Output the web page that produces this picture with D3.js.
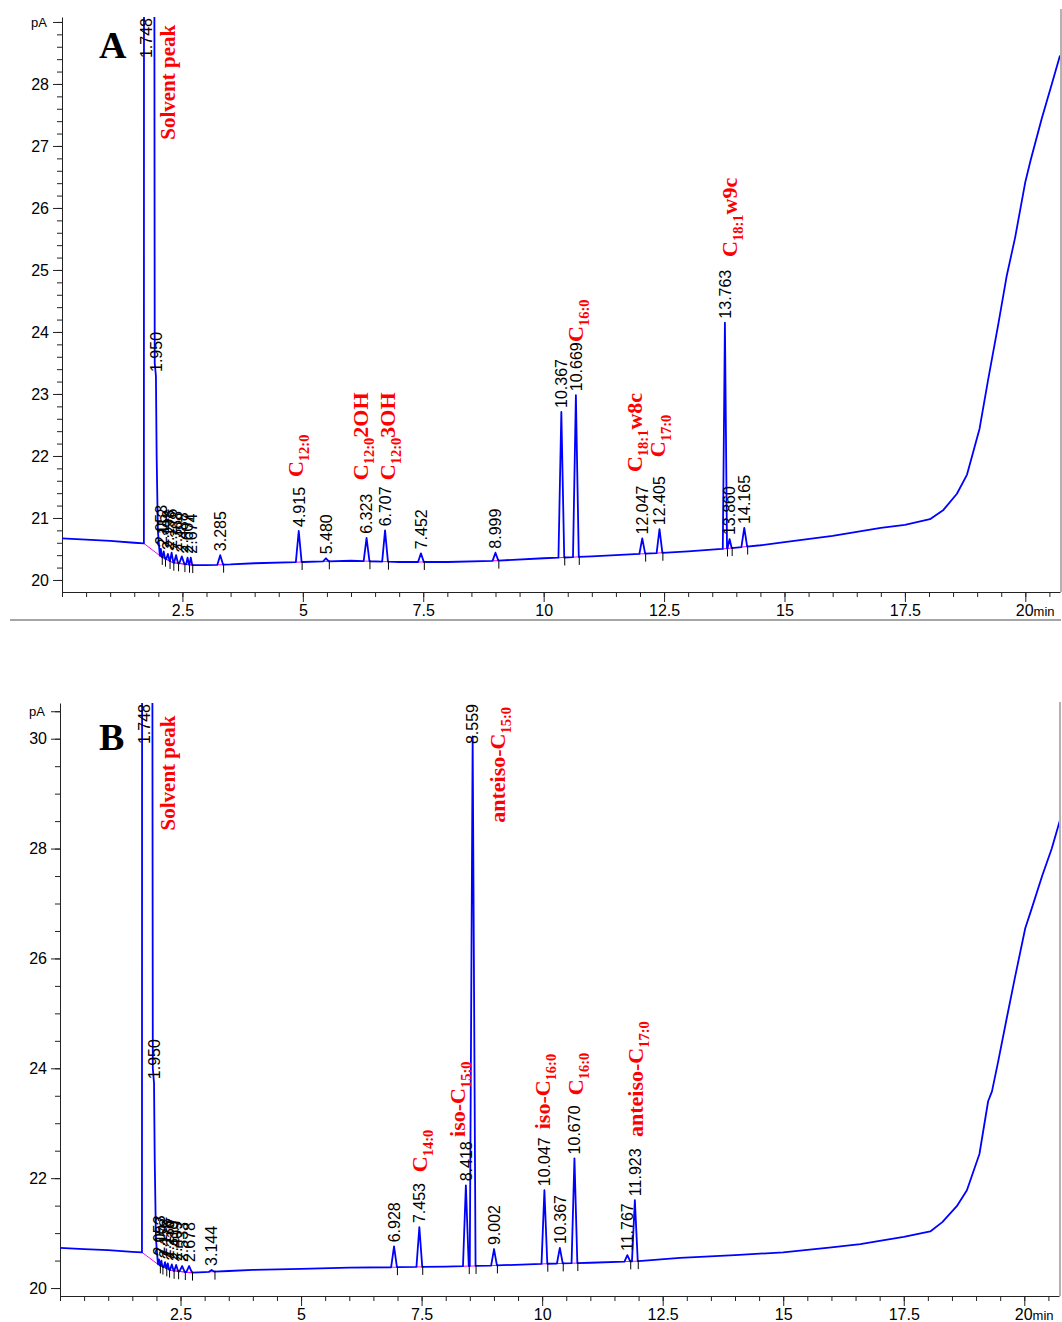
<!DOCTYPE html>
<html>
<head>
<meta charset="utf-8">
<script src="https://cdn.jsdelivr.net/npm/d3@7"></script>
<style>
body { margin: 0; background: #fff; }
svg { display: block; }
</style>
</head>
<body>
<svg id="chart" width="1062" height="1322"></svg>
<script>
// ---- panel A : baseline / drift of the FID signal (min, pA)
var baseTimeA = [0, 0.5, 1.0, 1.5, 1.70, 2.05, 2.3, 2.7, 3.0, 3.5, 4.0, 5.0, 6.0, 7.0, 8.0, 9.0, 10.0, 11.0, 12.0, 13.0, 13.7, 14.5, 15.0, 16.0, 17.0, 17.5, 18.02, 18.3, 18.58, 18.79, 19.05, 19.23, 19.44, 19.61, 19.79, 20.0, 20.11, 20.34, 20.55, 20.72];
var baseValA  = [20.67, 20.65, 20.63, 20.60, 20.59, 20.38, 20.28, 20.24, 20.24, 20.25, 20.27, 20.29, 20.31, 20.29, 20.29, 20.31, 20.35, 20.38, 20.42, 20.46, 20.50, 20.56, 20.61, 20.71, 20.84, 20.89, 20.98, 21.13, 21.39, 21.70, 22.44, 23.24, 24.13, 24.89, 25.53, 26.42, 26.77, 27.44, 28.00, 28.46];
// solvent front (goes off scale)
var solTimeA = [1.70, 1.705, 1.905, 1.925, 1.95, 1.965, 1.99, 2.03];
var solValA  = [20.59, 40, 40, 23.5, 23.29, 22.0, 20.8, 20.40];
// labelled peaks : retention time and apex
var rtA  = [1.748, 1.950, 2.053, 2.112, 2.198, 2.276, 2.368, 2.488, 2.607, 2.674, 3.285, 4.915, 5.480, 6.323, 6.707, 7.452, 8.999, 10.367, 10.669, 12.047, 12.405, 13.763, 13.860, 14.165];
var topA = [40, 23.29, 20.50, 20.46, 20.42, 20.44, 20.40, 20.38, 20.36, 20.36, 20.40, 20.79, 20.35, 20.68, 20.80, 20.43, 20.44, 22.71, 22.98, 20.67, 20.82, 24.15, 20.66, 20.84];
// compound names ( {..} = subscript ) and where they sit (min, pA)
var noteTextA = ["Solvent peak", "C{12:0}", "C{12:0}2OH", "C{12:0}3OH", "C{16:0}", "C{18:1}w8c", "C{17:0}", "C{18:1}w9c"];
var noteTimeA = [2.35, 5.00, 6.35, 6.91, 10.82, 12.04, 12.52, 14.02];
var noteValA  = [27.10, 21.66, 21.61, 21.61, 23.84, 21.74, 21.98, 25.21];

// ---- panel B
var baseTimeB = [0, 0.5, 1.0, 1.5, 1.70, 2.05, 2.3, 2.7, 3.0, 3.5, 4.0, 5.0, 6.0, 7.0, 8.0, 9.0, 10.0, 11.0, 12.0, 12.86, 14.0, 15.0, 16.0, 16.6, 17.0, 17.5, 18.05, 18.3, 18.6, 18.81, 19.07, 19.25, 19.33, 19.46, 19.64, 19.81, 20.02, 20.14, 20.37, 20.57, 20.75];
var baseValB  = [20.73, 20.71, 20.69, 20.66, 20.65, 20.42, 20.32, 20.28, 20.29, 20.31, 20.33, 20.35, 20.37, 20.38, 20.39, 20.41, 20.44, 20.46, 20.49, 20.55, 20.60, 20.65, 20.74, 20.80, 20.86, 20.93, 21.03, 21.20, 21.49, 21.78, 22.44, 23.40, 23.58, 24.13, 24.93, 25.67, 26.55, 26.87, 27.50, 28.00, 28.55];
var solTimeB = [1.70, 1.705, 1.905, 1.925, 1.95, 1.965, 1.99, 2.03];
var solValB  = [20.65, 40, 40, 24.0, 23.73, 22.3, 20.9, 20.45];
var rtB  = [1.748, 1.950, 2.053, 2.102, 2.178, 2.236, 2.319, 2.409, 2.533, 2.678, 3.144, 6.928, 7.453, 8.418, 8.559, 9.002, 10.047, 10.367, 10.670, 11.767, 11.923];
var topB = [40, 23.73, 20.52, 20.50, 20.47, 20.45, 20.43, 20.42, 20.40, 20.40, 20.33, 20.76, 21.11, 21.87, 30.04, 20.71, 21.78, 20.73, 22.36, 20.60, 21.60];
var noteTextB = ["Solvent peak", "C{14:0}", "iso-C{15:0}", "anteiso-C{15:0}", "iso-C{16:0}", "C{16:0}", "anteiso-C{17:0}"];
var noteTimeB = [2.39, 7.61, 8.40, 9.23, 10.17, 10.85, 12.10];
var noteValB  = [28.33, 22.11, 22.75, 28.47, 22.89, 23.51, 22.75];

// x axis labels (min)
var xTickVals = [2.5, 5, 7.5, 10, 12.5, 15, 17.5, 20];

var sans = "'Liberation Sans', Arial, sans-serif";
var serif = "'Liberation Serif', 'Times New Roman', serif";
var fmt = d3.format(".3f");
var svg = d3.select("#chart");

function buildTrace(baseT, baseV, solT, solV, rts, tops) {
    var baseAt = d3.scaleLinear().domain(baseT).range(baseV);
    var tEnd = solT[solT.length - 1];
    var peaks = rts.map(function(t, i){ return {t: t, top: tops[i]}; })
                   .filter(function(p){ return p.t > tEnd; });
    peaks.forEach(function(p, i){
        var w = 0.06;
        if (i > 0) w = Math.min(w, 0.45 * (p.t - peaks[i-1].t));
        if (i < peaks.length - 1) w = Math.min(w, 0.45 * (peaks[i+1].t - p.t));
        w = Math.min(w, 0.8 * (p.t - tEnd));
        p.w = w;
        p.b0 = baseAt(p.t - w);
        p.b1 = baseAt(p.t + w);
    });
    var pts = [];
    baseT.forEach(function(t, i){ if (t < solT[0]) pts.push([t, baseV[i]]); });
    solT.forEach(function(t, i){ pts.push([t, solV[i]]); });
    baseT.forEach(function(t, i){
        if (t > tEnd && !peaks.some(function(p){ return Math.abs(t - p.t) <= p.w; }))
            pts.push([t, baseV[i]]);
    });
    peaks.forEach(function(p){
        pts.push([p.t - p.w, p.b0], [p.t, p.top], [p.t + p.w, p.b1]);
    });
    pts.sort(function(a, b){ return a[0] - b[0]; });
    return {pts: pts, peaks: peaks, baseAt: baseAt};
}

function addNote(g, str, px, py) {
    var plain = str.indexOf("{") < 0;
    var t = g.append("text")
        .attr("transform", "translate(" + px + "," + py + ") rotate(-90)")
        .attr("font-family", serif)
        .attr("font-weight", "bold")
        .attr("fill", "#ff0000")
        .attr("font-size", plain ? 21 : 22);
    var parts = str.split(/(\{[^}]*\})/).filter(function(s){ return s.length; });
    var shift = 0;
    parts.forEach(function(p){
        var sub = p[0] == "{";
        var s = t.append("tspan").text(sub ? p.slice(1, -1) : p);
        if (sub) { s.attr("font-size", 14.5).attr("dy", 6); shift = 6; }
        else if (shift) { s.attr("dy", -shift); shift = 0; }
    });
}

function drawPanel(c) {
    var g = svg.append("g");
    var x = d3.scaleLinear().domain([0, 20.72]).range(c.xRange);
    var y = d3.scaleLinear().domain(c.yDomain).range(c.yRange);
    var x0 = c.xRange[0], x1 = c.xRange[1], yTop = c.yRange[1], yBot = c.yRange[0];

    // frame right side
    g.append("line").attr("x1", x1 + 1).attr("x2", x1 + 1)
        .attr("y1", c.frameTop).attr("y2", yBot)
        .attr("stroke", "#666").attr("stroke-width", 1);

    // y axis
    var minorY = y.ticks(c.minorCount);
    var majorY = y.ticks(c.majorCount);
    var pAval = d3.max(minorY);
    majorY = majorY.filter(function(v){ return v < pAval - 1e-6; });

    var ya = g.append("g").attr("transform", "translate(" + x0 + ",0)").attr("color", "#222");
    ya.call(d3.axisLeft(y).tickValues(minorY).tickSize(5).tickFormat("").tickSizeOuter(0));
    var ym = g.append("g").attr("transform", "translate(" + x0 + ",0)").attr("color", "#222");
    ym.call(d3.axisLeft(y).tickValues(majorY).tickSize(9).tickPadding(4).tickFormat(d3.format("d")));
    ym.select(".domain").remove();
    var yp = g.append("g").attr("transform", "translate(" + x0 + ",0)").attr("color", "#222");
    yp.call(d3.axisLeft(y).tickValues([pAval]).tickSize(9).tickPadding(6).tickFormat(function(){ return "pA"; }));
    yp.select(".domain").remove();

    // x axis
    var xa = g.append("g").attr("transform", "translate(0," + yBot + ")").attr("color", "#222");
    xa.call(d3.axisBottom(x).tickValues(x.ticks(40)).tickSize(5).tickFormat("").tickSizeOuter(0));
    var xm = g.append("g").attr("transform", "translate(0," + yBot + ")").attr("color", "#222");
    xm.call(d3.axisBottom(x).tickValues(xTickVals).tickSize(10).tickPadding(3).tickFormat(d3.format("")));
    xm.select(".domain").remove();
    xm.selectAll(".tick").filter(function(d){ return d == 20; }).select("text")
        .attr("text-anchor", "start").attr("x", -10)
        .append("tspan").attr("font-size", 13).text("min");

    [ya, ym, xa, xm].forEach(function(a){
        a.attr("font-size", 16);
        a.selectAll("text").attr("font-family", sans).attr("fill", "#000");
    });
    yp.attr("font-size", 13);
    yp.selectAll("text").attr("font-family", sans).attr("fill", "#000");

    // trace
    var tr = buildTrace(c.baseT, c.baseV, c.solT, c.solV, c.rts, c.tops);
    var clipId = "clip" + c.letter;
    svg.append("clipPath").attr("id", clipId).append("rect")
        .attr("x", x0).attr("y", yTop).attr("width", x1 - x0).attr("height", yBot - yTop);
    var plot = g.append("g").attr("clip-path", "url(#" + clipId + ")");

    // integration baselines
    var magenta = [[c.solT[0], c.solV[0]]];
    c.baseT.forEach(function(t, i){ if (t > c.solT[0] && t <= 2.7) magenta.push([t, c.baseV[i]]); });
    var line = d3.line().x(function(d){ return x(d[0]); }).y(function(d){ return y(d[1]); });
    plot.append("path").attr("d", line(magenta)).attr("fill", "none")
        .attr("stroke", "#ff00ff").attr("stroke-width", 1);
    plot.selectAll(".ib").data(tr.peaks).enter().append("line")
        .attr("x1", function(d){ return x(d.t - d.w); }).attr("x2", function(d){ return x(d.t + d.w); })
        .attr("y1", function(d){ return y(d.b0); }).attr("y2", function(d){ return y(d.b1); })
        .attr("stroke", "#ff00ff").attr("stroke-width", 1);

    plot.append("path").attr("d", line(tr.pts)).attr("fill", "none")
        .attr("stroke", "#0000ff").attr("stroke-width", 1.8).attr("stroke-linejoin", "round");

    // peak end markers
    plot.selectAll(".pm").data(tr.peaks).enter().append("line")
        .attr("x1", function(d){ return x(d.t + d.w) + 0.5; }).attr("x2", function(d){ return x(d.t + d.w) + 0.5; })
        .attr("y1", function(d){ return y(d.b1) - 1; }).attr("y2", function(d){ return y(d.b1) + 8; })
        .attr("stroke", "#000").attr("stroke-width", 1);

    // retention time labels
    var pk = c.rts.map(function(t, i){ return {t: t, top: c.tops[i]}; });
    g.selectAll(".rt").data(pk).enter().append("text")
        .attr("font-family", sans).attr("font-size", 16).attr("fill", "#000")
        .attr("dy", "0.36em")
        .text(function(d){ return fmt(d.t); })
        .each(function(d){
            var len = this.getComputedTextLength();
            var yy = Math.max(y(d.top) - 4, yTop + len + 1);
            d3.select(this).attr("transform", "translate(" + x(d.t) + "," + yy + ") rotate(-90)");
        });

    // compound names
    c.notes.forEach(function(s, i){ addNote(g, s, x(c.noteT[i]), y(c.noteV[i])); });

    // panel letter
    g.append("text").attr("x", c.letterX).attr("y", c.letterY)
        .attr("font-family", serif).attr("font-weight", "bold").attr("font-size", 38)
        .attr("fill", "#000").text(c.letter);
}

drawPanel({
    letter: "A", letterX: 99, letterY: 58,
    xRange: [62, 1060], yDomain: [19.806, 29.08], yRange: [592, 17], frameTop: 9,
    minorCount: 50, majorCount: 10,
    baseT: baseTimeA, baseV: baseValA, solT: solTimeA, solV: solValA,
    rts: rtA, tops: topA, notes: noteTextA, noteT: noteTimeA, noteV: noteValA
});
drawPanel({
    letter: "B", letterX: 99, letterY: 750,
    xRange: [60, 1059], yDomain: [19.855, 30.65], yRange: [1296, 703], frameTop: 702,
    minorCount: 20, majorCount: 5,
    baseT: baseTimeB, baseV: baseValB, solT: solTimeB, solV: solValB,
    rts: rtB, tops: topB, notes: noteTextB, noteT: noteTimeB, noteV: noteValB
});

// separator under panel A
svg.append("line").attr("x1", 10).attr("x2", 1061).attr("y1", 620).attr("y2", 620)
    .attr("stroke", "#888").attr("stroke-width", 1.5);
</script>
</body>
</html>
